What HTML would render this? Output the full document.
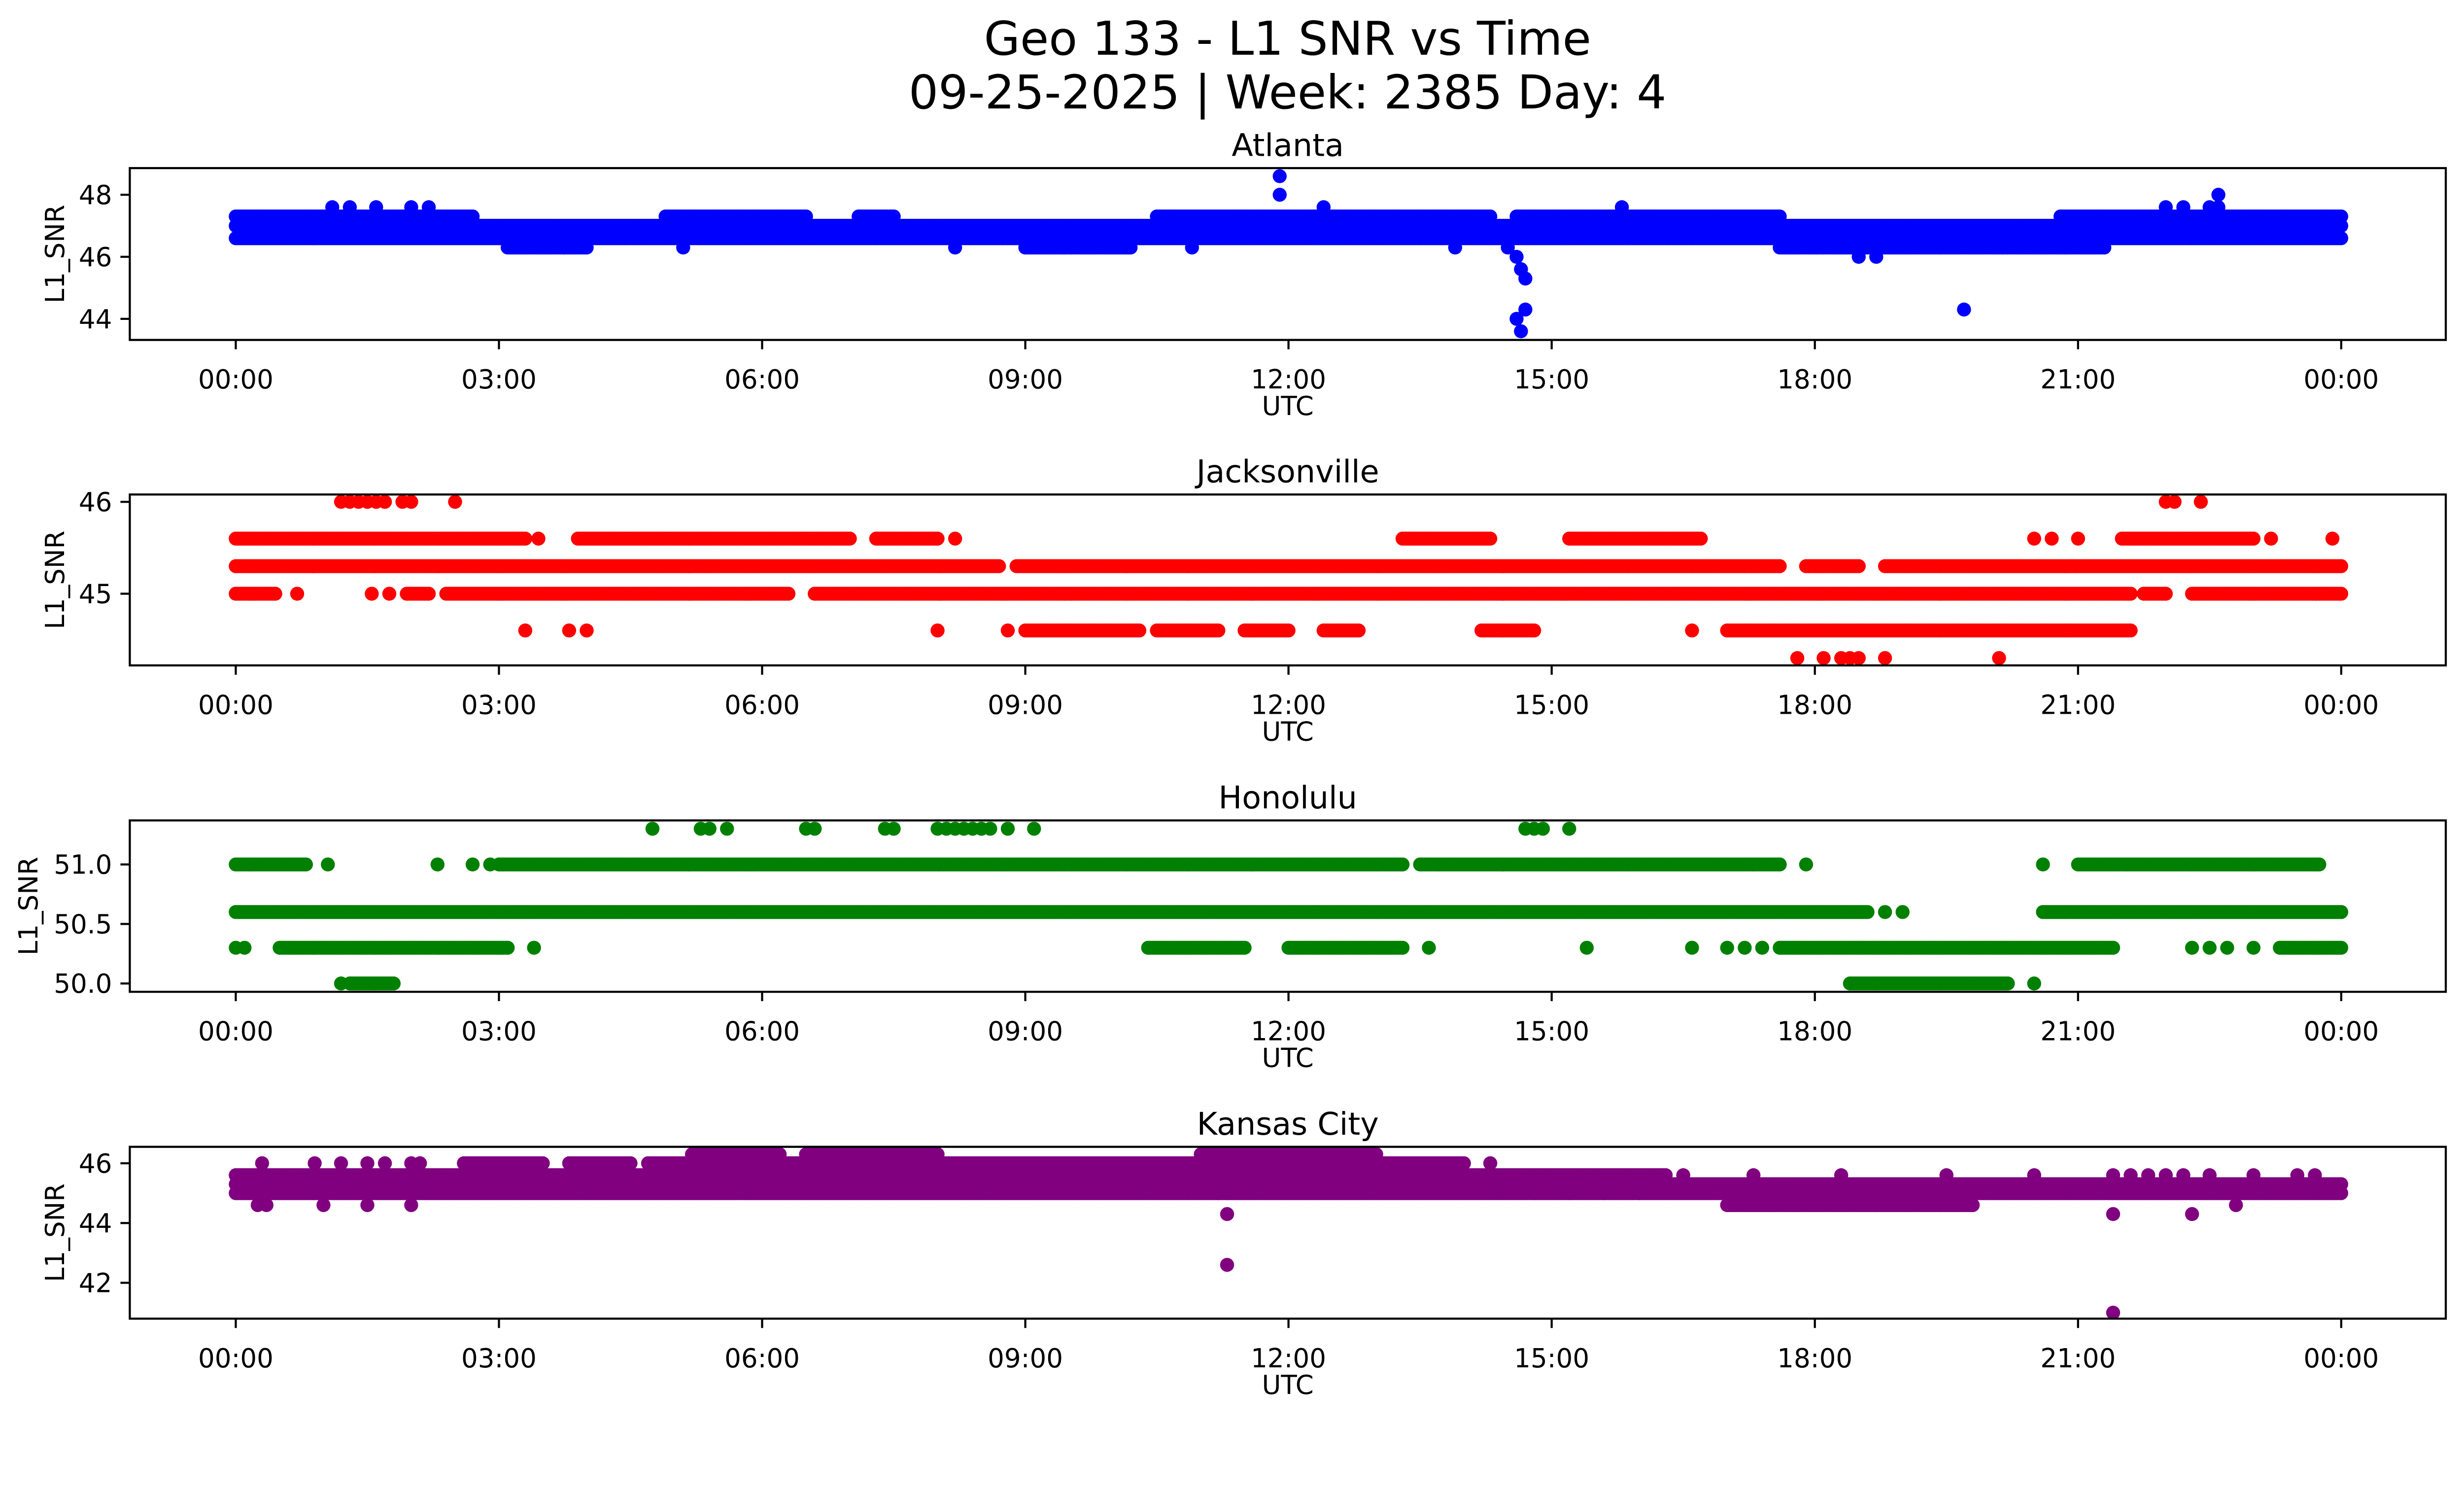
<!DOCTYPE html>
<html><head><meta charset="utf-8"><style>
html,body{margin:0;padding:0;background:#fff;overflow:hidden;}
svg{display:block;position:absolute;left:0;top:0;width:100vw;height:calc(100vw * 3033 / 5278);font-family:"DejaVu Sans","Liberation Sans",sans-serif;}
</style></head><body>
<svg id="chart" viewBox="0 0 5278 3033" xmlns="http://www.w3.org/2000/svg">
<rect x="0" y="0" width="5278" height="3033" fill="#fff"/>
<text x="2758" y="117" font-size="100" text-anchor="middle">Geo 133 - L1 SNR vs Time</text>
<text x="2758" y="232" font-size="100" text-anchor="middle">09-25-2025 | Week: 2385 Day: 4</text>
</svg>
<script>
// x tick labels (hours)
const xTickHours = [0,3,6,9,12,15,18,21,24];
const xTickLabels = ["00:00","03:00","06:00","09:00","12:00","15:00","18:00","21:00","00:00"];

// Atlanta
const atlRunLevels = [47.0,46.6,47.3,47.3,47.3,47.3,47.3,47.3,46.3,46.3,46.3];
const atlRunStarts = [0,0,0,4.9,7.1,10.5,14.6,20.8,3.1,9.0,17.6];
const atlRunEnds   = [24,24,2.7,6.5,7.5,14.3,17.6,24,4.0,10.2,21.3];
const atlPtTimes  = [1.1,1.3,1.6,2.0,2.2,12.4,15.8,22.0,22.2,22.5,22.6,11.9,22.6,11.9,18.5,18.7,14.5,14.6,14.65,14.7,14.7,14.6,14.65,19.7,5.1,8.2,10.9,13.9];
const atlPtValues = [47.6,47.6,47.6,47.6,47.6,47.6,47.6,47.6,47.6,47.6,47.6,48.0,48.0,48.6,46.0,46.0,46.3,46.0,45.6,45.3,44.3,44.0,43.6,44.3,46.3,46.3,46.3,46.3];
const atlTicks = [44,46,48];

// Jacksonville
const jaxRunLevels = [45.6,45.6,45.6,45.6,45.6,45.6,45.3,45.3,45.3,45.3,45.0,45.0,45.0,45.0,45.0,45.0,44.6,44.6,44.6,44.6,44.6,44.6];
const jaxRunStarts = [0,3.9,7.3,13.3,15.2,21.5,0,8.9,17.9,18.8,0,1.95,2.4,6.6,21.75,22.3,9.0,10.5,11.5,12.4,14.2,17.0];
const jaxRunEnds   = [3.3,7.0,8.0,14.3,16.7,23.0,8.7,17.6,18.5,24,0.45,2.2,6.3,21.6,22.0,24,10.3,11.2,12.0,12.8,14.8,21.6];
const jaxPtTimes  = [1.2,1.3,1.4,1.5,1.6,1.7,1.9,2.0,2.5,22.0,22.1,22.4,3.45,8.2,20.5,20.7,21.0,23.2,23.9,0.7,1.55,1.75,3.3,3.8,4.0,8.0,8.8,16.6,17.8,18.1,18.3,18.4,18.5,18.8,20.1];
const jaxPtValues = [46,46,46,46,46,46,46,46,46,46,46,46,45.6,45.6,45.6,45.6,45.6,45.6,45.6,45.0,45.0,45.0,44.6,44.6,44.6,44.6,44.6,44.6,44.3,44.3,44.3,44.3,44.3,44.3,44.3];
const jaxTicks = [45,46];

// Honolulu
const honRunLevels = [51.0,51.0,51.0,51.0,50.6,50.6,50.3,50.3,50.3,50.3,50.3,50.0,50.0];
const honRunStarts = [0,3.0,13.5,21.0,0,20.6,0.5,10.4,12.0,17.6,23.3,1.3,18.4];
const honRunEnds   = [0.8,13.3,17.6,23.75,18.6,24,3.1,11.5,13.3,21.4,24,1.8,20.2];
const honPtTimes  = [4.75,5.3,5.4,5.6,6.5,6.6,7.4,7.5,8.0,8.1,8.2,8.3,8.4,8.5,8.6,8.8,9.1,14.7,14.8,14.9,15.2,1.05,2.3,2.7,2.9,17.9,20.6,18.8,19.0,0.0,0.1,3.4,13.6,15.4,16.6,17.0,17.2,17.4,22.3,22.5,22.7,23.0,1.2,20.5];
const honPtValues = [51.3,51.3,51.3,51.3,51.3,51.3,51.3,51.3,51.3,51.3,51.3,51.3,51.3,51.3,51.3,51.3,51.3,51.3,51.3,51.3,51.3,51.0,51.0,51.0,51.0,51.0,51.0,50.6,50.6,50.3,50.3,50.3,50.3,50.3,50.3,50.3,50.3,50.3,50.3,50.3,50.3,50.3,50.0,50.0];
const honTicks = [50.0,50.5,51.0];
const honTickLabels = ["50.0","50.5","51.0"];

// Kansas City
const kcRunLevels = [45.0,45.3,45.6,46.0,46.0,46.0,46.0,46.3,46.3,46.3,44.6];
const kcRunStarts = [0,0,0,2.6,3.8,4.7,12.5,5.2,6.5,11.0,17.0];
const kcRunEnds   = [24,24,16.3,3.5,4.5,12.5,14.0,6.2,8.0,13.0,19.8];
const kcPtTimes  = [0.3,0.9,1.2,1.5,1.7,2.0,2.1,14.3,0.25,0.35,1.0,1.5,2.0,11.2,11.3,11.3,11.3,21.4,21.4,22.3,22.8,16.5,17.3,18.3,19.5,20.5,21.4,21.6,21.8,22.0,22.2,22.5,23.0,23.5,23.7,14.8,15.2,15.6,16.0];
const kcPtValues = [46,46,46,46,46,46,46,46,44.6,44.6,44.6,44.6,44.6,45.0,45.0,44.3,42.6,44.3,41.0,44.3,44.6,45.6,45.6,45.6,45.6,45.6,45.6,45.6,45.6,45.6,45.6,45.6,45.6,45.6,45.6,45.0,45.0,45.0,45.0];
const kcTicks = [42,44,46];

const NS = "http://www.w3.org/2000/svg";
const svg = document.getElementById("chart");
const AX_L = 278, AX_R = 5239;
function xScale(h){ return 505 + h * (4510/24); }
function mk(tag, attrs, parent){
  const e = document.createElementNS(NS, tag);
  for (const k in attrs) e.setAttribute(k, attrs[k]);
  (parent||svg).appendChild(e);
  return e;
}
const STEP = 0.025;
function drawPanel(cfg){
  const g = mk("g", {});
  
  
  const yScale = v => cfg.top + (cfg.yMax - v) / (cfg.yMax - cfg.yMin) * (cfg.bottom - cfg.top);
  const clip = mk("clipPath", {id: "clip-" + cfg.key}, g);
  mk("rect", {x: AX_L, y: cfg.top, width: AX_R - AX_L, height: cfg.bottom - cfg.top}, clip);
  const pts = mk("g", {fill: cfg.color, "clip-path": "url(#clip-" + cfg.key + ")"}, g);
  
  
  for (let i = 0; i < cfg.runLevels.length; i++){
    for (let t = cfg.runStarts[i]; t <= cfg.runEnds[i] + 1e-9; t += STEP){
      const c = mk("circle", {cx: xScale(t).toFixed(1), cy: yScale(cfg.runLevels[i]).toFixed(1), r: 15}, pts);
      
      
    }
  }
  for (let i = 0; i < cfg.ptTimes.length; i++){
    const c = mk("circle", {cx: xScale(cfg.ptTimes[i]).toFixed(1), cy: yScale(cfg.ptValues[i]).toFixed(1), r: 15}, pts);
    
    
  }
  const fr = mk("rect", {x: AX_L, y: cfg.top, width: AX_R - AX_L, height: cfg.bottom - cfg.top, fill: "none", stroke: "#000", "stroke-width": 4.5}, g);
  
  
  for (let i = 0; i < xTickHours.length; i++){
    const x = xScale(xTickHours[i]);
    const tk = mk("line", {x1: x, x2: x, y1: cfg.bottom, y2: cfg.bottom + 20, stroke: "#000", "stroke-width": 4.5}, g);
    
    
    const tl = mk("text", {x: x, y: cfg.bottom + 104, "font-size": 56, "text-anchor": "middle"}, g);
    
    
    tl.textContent = xTickLabels[i];
  }
  for (let i = 0; i < cfg.ticks.length; i++){
    const y = yScale(cfg.ticks[i]);
    const tk = mk("line", {x1: AX_L - 20, x2: AX_L, y1: y, y2: y, stroke: "#000", "stroke-width": 4.5}, g);
    
    
    const tl = mk("text", {x: AX_L - 38, y: y + 20, "font-size": 56, "text-anchor": "end"}, g);
    
    
    tl.textContent = cfg.tickLabels ? cfg.tickLabels[i] : String(cfg.ticks[i]);
  }
  const xl = mk("text", {x: (AX_L + AX_R) / 2, y: cfg.bottom + 161, "font-size": 56, "text-anchor": "middle"}, g);
  
  
  xl.textContent = "UTC";
  const cy = (cfg.top + cfg.bottom) / 2;
  const yl = mk("text", {x: 0, y: 0, "font-size": 56, "text-anchor": "middle", transform: "translate(" + (cfg.ylx || 137) + "," + cy + ") rotate(-90)"}, g);
  
  
  yl.textContent = "L1_SNR";
  const tt = mk("text", {x: (AX_L + AX_R) / 2, y: cfg.top - 26, "font-size": 67, "text-anchor": "middle"}, g);
  
  
  tt.textContent = cfg.title;
}
drawPanel({key:"atlanta", title:"Atlanta", color:"#0000ff", top:360, bottom:728, yMin:43.32, yMax:48.86,
  runLevels:atlRunLevels, runStarts:atlRunStarts, runEnds:atlRunEnds, ptTimes:atlPtTimes, ptValues:atlPtValues, ticks:atlTicks});
drawPanel({key:"jacksonville", title:"Jacksonville", color:"#ff0000", top:1059, bottom:1425, yMin:44.22, yMax:46.08,
  runLevels:jaxRunLevels, runStarts:jaxRunStarts, runEnds:jaxRunEnds, ptTimes:jaxPtTimes, ptValues:jaxPtValues, ticks:jaxTicks});
drawPanel({key:"honolulu", title:"Honolulu", color:"#008000", top:1757, bottom:2124, yMin:49.93, yMax:51.37, ylx:80,
  runLevels:honRunLevels, runStarts:honRunStarts, runEnds:honRunEnds, ptTimes:honPtTimes, ptValues:honPtValues, ticks:honTicks, tickLabels:honTickLabels});
drawPanel({key:"kansas-city", title:"Kansas City", color:"#800080", top:2456, bottom:2824, yMin:40.8, yMax:46.55,
  runLevels:kcRunLevels, runStarts:kcRunStarts, runEnds:kcRunEnds, ptTimes:kcPtTimes, ptValues:kcPtValues, ticks:kcTicks});
</script>
</body></html>
